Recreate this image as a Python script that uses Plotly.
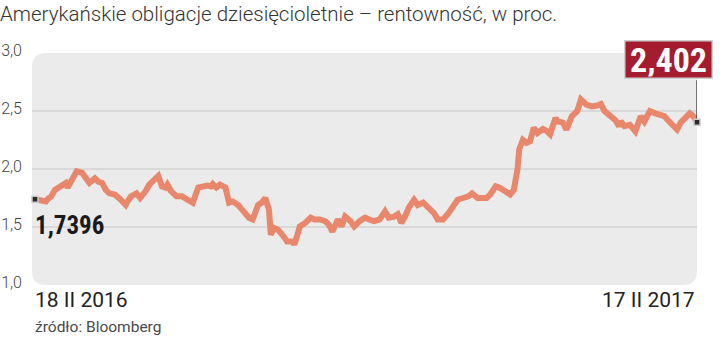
import pandas as pd
import plotly.graph_objects as go

# ---------------- data ----------------
title_text = "Amerykańskie obligacje dziesięcioletnie – rentowność, w proc."
source_text = "źródło: Bloomberg"
start_date = "2016-02-18"
date_labels = ["18 II 2016", "17 II 2017"]
value_labels = ["1,7396", "2,402"]
y_ticks = [1.0, 1.5, 2.0, 2.5, 3.0]
y_tick_text = ["1,0", "1,5", "2,0", "2,5", "3,0"]
grid_values = [1.5, 2.0, 2.5]

day_offsets = [
    0, 3, 6, 7, 9, 11, 14, 17, 18, 20, 23, 26, 28, 30, 33, 35, 37, 39, 41, 44,
    47, 50, 51, 53, 56, 58, 61, 63, 66, 68, 70, 72, 73, 75, 78, 81, 84, 87, 90, 93,
    95, 97, 98, 100, 102, 105, 107, 109, 112, 115, 118, 120, 121, 123, 125, 127, 129, 130, 132, 134,
    137, 139, 142, 143, 145, 146, 149, 152, 154, 157, 160, 162, 164, 165, 167, 169, 171, 174, 176, 179,
    182, 185, 187, 190, 193, 195, 198, 200, 202, 204, 206, 209, 211, 214, 217, 220, 222, 225, 228, 231,
    233, 236, 239, 241, 244, 246, 249, 251, 254, 256, 259, 262, 264, 266, 267, 269, 271, 273, 275, 277,
    280, 282, 284, 287, 288, 291, 293, 296, 299, 301, 304, 307, 310, 312, 314, 317, 320, 322, 323, 325,
    328, 331, 333, 334, 336, 339, 342, 345, 347, 349, 351, 354, 356, 358, 361, 363, 365,
]
yields = [
    1.7396, 1.735, 1.72, 1.74, 1.765, 1.82, 1.85, 1.88, 1.84, 1.89, 1.98, 1.966, 1.92, 1.88, 1.92, 1.89, 1.88, 1.82, 1.79, 1.78,
    1.74, 1.69, 1.72, 1.765, 1.79, 1.75, 1.81, 1.865, 1.91, 1.94, 1.85, 1.84, 1.865, 1.81, 1.765, 1.765, 1.735, 1.71, 1.84, 1.85,
    1.857, 1.85, 1.87, 1.84, 1.865, 1.84, 1.71, 1.72, 1.69, 1.635, 1.58, 1.565, 1.61, 1.69, 1.71, 1.75, 1.65, 1.434, 1.49, 1.477,
    1.42, 1.376, 1.376, 1.348, 1.45, 1.505, 1.535, 1.58, 1.565, 1.565, 1.55, 1.52, 1.46, 1.49, 1.565, 1.505, 1.59, 1.55, 1.505, 1.55,
    1.58, 1.56, 1.55, 1.565, 1.635, 1.58, 1.59, 1.61, 1.535, 1.59, 1.665, 1.735, 1.69, 1.71, 1.665, 1.62, 1.565, 1.565, 1.62, 1.69,
    1.735, 1.75, 1.765, 1.79, 1.75, 1.75, 1.75, 1.78, 1.85, 1.84, 1.81, 1.78, 1.82, 1.995, 2.17, 2.25, 2.225, 2.24, 2.355, 2.31,
    2.345, 2.33, 2.30, 2.44, 2.41, 2.40, 2.34, 2.455, 2.50, 2.60, 2.555, 2.54, 2.547, 2.56, 2.50, 2.455, 2.42, 2.37, 2.41, 2.37,
    2.38, 2.325, 2.41, 2.455, 2.41, 2.50, 2.48, 2.47, 2.455, 2.42, 2.38, 2.34, 2.40, 2.44, 2.48, 2.455, 2.402,
]

dates = pd.Timestamp(start_date) + pd.to_timedelta(day_offsets, unit="D")

# ---------------- layout constants ----------------
W, H = 720, 338
ML, MR, MT, MB = 32, 23, 53, 53
PW, PH = W - ML - MR, H - MT - MB
LINE_COLOR = "#e8876c"
NARROW = "Liberation Sans Narrow, Roboto Condensed, Arial Narrow, sans-serif"

fig = go.Figure()
fig.add_trace(go.Scatter(
    x=dates, y=yields, mode="lines",
    line=dict(color=LINE_COLOR, width=6),
    hoverinfo="skip", showlegend=False,
))
fig.add_trace(go.Scatter(
    x=[dates[0], dates[-1]], y=[yields[0], yields[-1]], mode="markers",
    marker=dict(symbol="square", size=6, color="#2a2a2a",
                line=dict(color="#c9c9c9", width=1.5)),
    cliponaxis=False, hoverinfo="skip", showlegend=False,
))

# rounded background panel (paper coordinates)
r = 14
rx, ry = r / PW, r / PH
panel = (f"M {rx} 0 L {1 - rx} 0 Q 1 0 1 {ry} L 1 {1 - ry} Q 1 1 {1 - rx} 1 "
         f"L {rx} 1 Q 0 1 0 {1 - ry} L 0 {ry} Q 0 0 {rx} 0 Z")
shapes = [dict(type="path", path=panel, xref="paper", yref="paper",
               fillcolor="#ebebeb", line=dict(width=0), layer="below")]
for g in grid_values:
    shapes.append(dict(type="line", xref="paper", yref="y", x0=0, x1=1, y0=g, y1=g,
                       line=dict(color="#c6c6c6", width=1), layer="below"))
# connector from badge to last point
shapes.append(dict(type="line", xref="x", yref="y", ysizemode="pixel",
                   x0=dates[-1], x1=dates[-1], yanchor=yields[-1], y0=4, y1=42,
                   line=dict(color="#333333", width=1.3), layer="above"))

annotations = [
    dict(x=dates[0], y=yields[0], xref="x", yref="y", text=f"<b>{value_labels[0]}</b>",
         showarrow=False, xanchor="left", yanchor="middle", xshift=-2, yshift=-26,
         font=dict(family=NARROW, size=25, color="#1a1a1a")),
    dict(x=dates[-1], y=yields[-1], xref="x", yref="y", text=f"<b>{value_labels[1]}</b>",
         showarrow=False, xanchor="right", yanchor="middle", xshift=16, yshift=63,
         width=84, height=34, borderpad=1, borderwidth=1.5,
         bgcolor="#a51c2e", bordercolor="#d0d0d0",
         font=dict(family=NARROW, size=34, color="#ffffff")),
    dict(x=dates[0], y=1.0, xref="x", yref="y", text=date_labels[0], showarrow=False,
         xanchor="left", yanchor="middle", xshift=-2, yshift=-15,
         font=dict(family="Roboto", size=21, color="#222222")),
    dict(x=dates[-1], y=1.0, xref="x", yref="y", text=date_labels[1], showarrow=False,
         xanchor="right", yanchor="middle", xshift=0, yshift=-15,
         font=dict(family="Roboto", size=21, color="#222222")),
    dict(x=0, y=0, xref="paper", yref="paper", text=source_text, showarrow=False,
         xanchor="left", yanchor="middle", xshift=1, yshift=-42,
         font=dict(family="Roboto", size=15.5, color="#4a4a4a")),
]

x_start = pd.Timestamp(start_date) - pd.Timedelta(days=1.65)
fig.update_layout(
    width=W, height=H,
    margin=dict(l=ML, r=MR, t=MT, b=MB, autoexpand=False),
    paper_bgcolor="#ffffff", plot_bgcolor="rgba(0,0,0,0)",
    title=dict(text=title_text, xref="container", yref="container", x=0, y=1 - 14 / H,
               xanchor="left", yanchor="middle",
               font=dict(family="Roboto", weight=300, size=20.5, color="#333333")),
    xaxis=dict(range=[x_start, dates[-1]], visible=False, showgrid=False,
               zeroline=False, automargin=False),
    yaxis=dict(range=[1.0, 3.0], tickvals=y_ticks, ticktext=y_tick_text,
               showgrid=False, zeroline=False, showline=False, ticks="",
               automargin=False, ticklabelstandoff=9, ticklabelshift=-3,
               tickfont=dict(family="Roboto", weight=300, size=16, color="#444444")),
    shapes=shapes, annotations=annotations,
)

fig.write_html("out.html")
